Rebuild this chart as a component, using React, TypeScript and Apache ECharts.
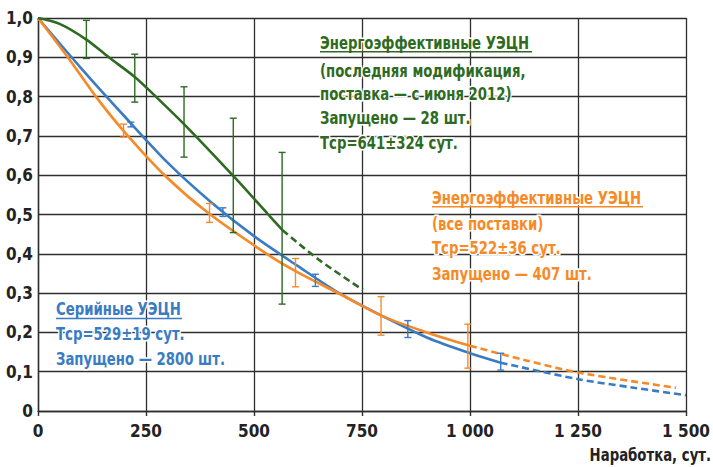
import React, { useEffect, useRef } from "react";
import * as echarts from "echarts";

// ---- data ----
const xTickLabels = ["0", "250", "500", "750", "1 000", "1 250", "1 500"];
const yTickLabels = ["0", "0,1", "0,2", "0,3", "0,4", "0,5", "0,6", "0,7", "0,8", "0,9", "1,0"];

// Серийные УЭЦН (blue)
const blueSolidX = [0, 100, 200, 300, 400, 500, 600, 700, 800, 900, 1000, 1071];
const blueSolidY = [1.0, 0.872, 0.75, 0.632, 0.532, 0.445, 0.37, 0.298, 0.24, 0.187, 0.147, 0.123];
const blueDashX = [1071, 1250, 1375, 1500];
const blueDashY = [0.123, 0.081, 0.06, 0.04];
const blueErr = [
  [215, 0.723, 0.735],
  [428, 0.495, 0.517],
  [642, 0.317, 0.348],
  [856, 0.187, 0.23],
  [1071, 0.104, 0.147],
];

// Энергоэффективные УЭЦН (все поставки) (orange)
const orangeSolidX = [0, 69, 134, 198, 293, 395, 532, 596, 700, 800, 900, 1000];
const orangeSolidY = [1.0, 0.9, 0.8, 0.713, 0.6, 0.503, 0.398, 0.356, 0.297, 0.24, 0.2, 0.166];
const orangeDashX = [1000, 1125, 1250, 1477];
const orangeDashY = [0.166, 0.13, 0.098, 0.059];
const orangeErr = [
  [198, 0.697, 0.73],
  [397, 0.48, 0.528],
  [596, 0.316, 0.388],
  [794, 0.193, 0.291],
  [995, 0.109, 0.221],
];

// Энергоэффективные УЭЦН (последняя модификация) (green)
const greenSolidX = [0, 50, 112, 164, 224, 268, 338, 452, 533, 566];
const greenSolidY = [1.0, 0.985, 0.945, 0.9, 0.85, 0.805, 0.73, 0.598, 0.5, 0.46];
const greenDashX = [566, 650, 752];
const greenDashY = [0.46, 0.385, 0.308];
const greenErr = [
  [112, 0.897, 0.994],
  [224, 0.786, 0.908],
  [338, 0.646, 0.825],
  [452, 0.454, 0.745],
  [565, 0.272, 0.658],
];

const greenText = [
  "Энергоэффективные УЭЦН",
  "(последняя модификация,",
  "поставка — с июня 2012)",
  "Запущено — 28 шт.",
  "Тср=641±324 сут.",
];
const orangeText = [
  "Энергоэффективные УЭЦН",
  "(все поставки)",
  "Тср=522±36 сут.",
  "Запущено — 407 шт.",
];
const blueText = ["Серийные УЭЦН", "Тср=529±19 сут.", "Запущено — 2800 шт."];
const axisTitle = "Наработка, сут.";

const BLUE = "#3a7cc4";
const ORANGE = "#f68a29";
const GREEN = "#2e6a22";
const GRID = "#2e2e2e";
const FONT = '"DejaVu Sans Condensed", "Liberation Sans Narrow", sans-serif';
const SX = 0.82;

const zip = (xs: number[], ys: number[]) => xs.map((x, i) => [x, ys[i]]);

function errSeries(data: number[][], color: string) {
  return {
    type: "custom",
    data,
    z: 5,
    renderItem: (params: any, api: any) => {
      const x = api.value(0);
      const lo = api.value(1);
      const hi = api.value(2);
      const p1 = api.coord([x, hi]);
      const p2 = api.coord([x, lo]);
      const w = 3.5;
      const st = { stroke: color, lineWidth: 1.4 };
      return {
        type: "group",
        children: [
          { type: "line", shape: { x1: p1[0], y1: p1[1], x2: p2[0], y2: p2[1] }, style: st },
          { type: "line", shape: { x1: p1[0] - w, y1: p1[1], x2: p1[0] + w, y2: p1[1] }, style: st },
          { type: "line", shape: { x1: p2[0] - w, y1: p2[1], x2: p2[0] + w, y2: p2[1] }, style: st },
        ],
      };
    },
  };
}

function lineSeries(data: number[][], color: string, dashed: boolean) {
  return {
    type: "line",
    data,
    smooth: 0.3,
    symbol: "none",
    z: 3,
    lineStyle: { color, width: 2.6, type: dashed ? [7, 4] : "solid" },
  };
}

function textBlock(lines: string[], x: number, ys: number[], color: string, underlineW: number) {
  const els: any[] = lines.map((t, i) => ({
    type: "text",
    x,
    y: ys[i],
    scaleX: SX,
    z: 10,
    style: {
      text: t,
      fill: color,
      font: `bold 18px ${FONT}`,
      textAlign: "left",
      textVerticalAlign: "middle",
      stroke: "#ffffff",
      lineWidth: 3,
    },
  }));
  els.push({
    type: "rect",
    z: 10,
    shape: { x, y: ys[0] + 8.5, width: underlineW, height: 1.4 },
    style: { fill: color },
  });
  return els;
}

export default function App() {
  const ref = useRef<HTMLDivElement>(null);
  useEffect(() => {
    if (!ref.current) return;
    const chart = echarts.init(ref.current, null, { renderer: "svg" });
    const option: any = {
      animation: false,
      backgroundColor: "#ffffff",
      grid: { left: 38, right: 16, top: 18, bottom: 56 },
      xAxis: {
        type: "value",
        min: 0,
        max: 1500,
        interval: 250,
        axisLine: { show: true, lineStyle: { color: GRID, width: 1.4 } },
        axisTick: { show: true, length: 5, lineStyle: { color: GRID, width: 1.4 } },
        splitLine: { show: true, lineStyle: { color: GRID, width: 1.3 } },
        axisLabel: {
          margin: 11,
          color: "#222",
          fontFamily: FONT,
          fontWeight: "bold",
          fontSize: 17,
          formatter: (v: number) => xTickLabels[Math.round(v / 250)],
        },
      },
      yAxis: {
        type: "value",
        min: 0,
        max: 1,
        interval: 0.1,
        axisLine: { show: true, lineStyle: { color: GRID, width: 1.4 } },
        axisTick: { show: false },
        splitLine: { show: true, lineStyle: { color: GRID, width: 1.3 } },
        axisLabel: {
          margin: 5,
          color: "#222",
          fontFamily: FONT,
          fontWeight: "bold",
          fontSize: 17,
          formatter: (v: number) => yTickLabels[Math.round(v * 10)],
        },
      },
      series: [
        lineSeries(zip(blueSolidX, blueSolidY), BLUE, false),
        lineSeries(zip(blueDashX, blueDashY), BLUE, true),
        lineSeries(zip(orangeSolidX, orangeSolidY), ORANGE, false),
        lineSeries(zip(orangeDashX, orangeDashY), ORANGE, true),
        lineSeries(zip(greenSolidX, greenSolidY), GREEN, false),
        lineSeries(zip(greenDashX, greenDashY), GREEN, true),
        errSeries(blueErr, BLUE),
        errSeries(orangeErr, ORANGE),
        errSeries(greenErr, GREEN),
      ],
      graphic: [
        ...textBlock(greenText, 320, [42.6, 71, 94.3, 118.3, 143.3], GREEN, 212),
        ...textBlock(orangeText, 432, [197.6, 223.6, 247.6, 274.3], ORANGE, 211),
        ...textBlock(blueText, 56, [309.3, 334.3, 359.3], BLUE, 126),
        {
          type: "text",
          x: 711,
          y: 455,
          scaleX: SX,
          style: {
            text: axisTitle,
            fill: "#222",
            font: `bold 18px ${FONT}`,
            textAlign: "right",
            textVerticalAlign: "middle",
          },
        },
      ],
    };
    chart.setOption(option);
    return () => chart.dispose();
  }, []);
  return (
    <div
      ref={ref}
      style={{ position: "fixed", left: 0, top: 0, width: 713, height: 467, background: "#fff" }}
    />
  );
}
